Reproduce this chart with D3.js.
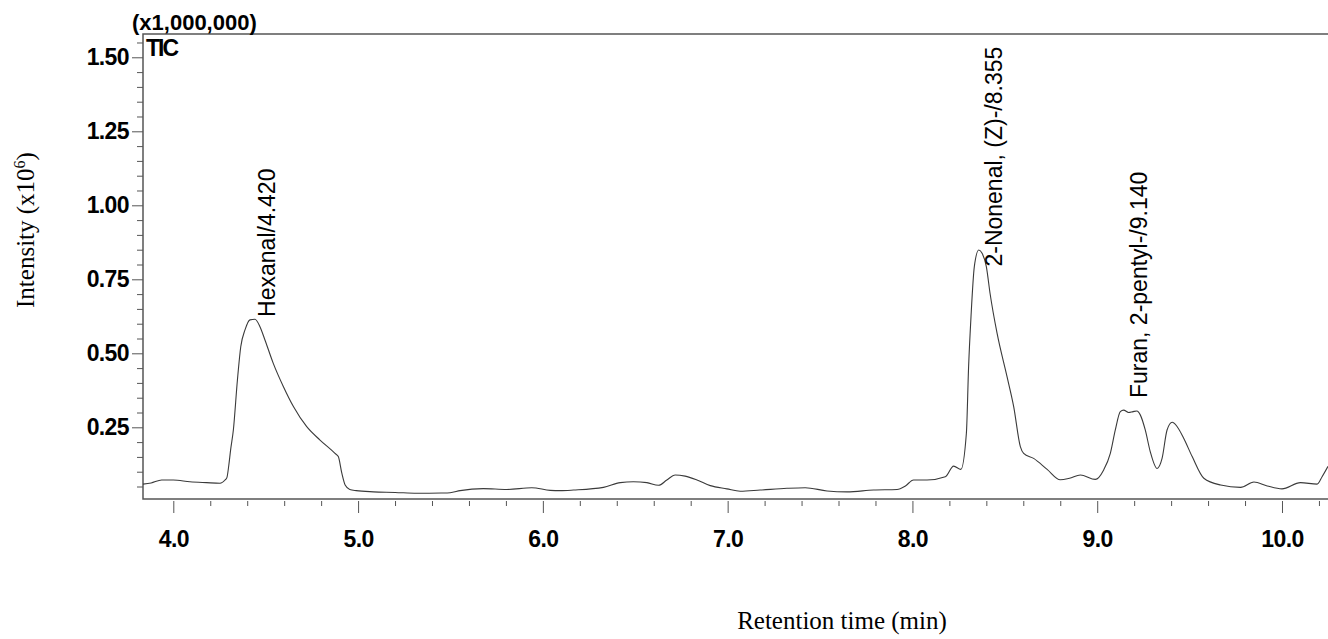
<!DOCTYPE html>
<html>
<head>
<meta charset="utf-8">
<script src="https://cdn.jsdelivr.net/npm/d3@7"></script>
<style>
body { margin: 0; background: #fff; }
</style>
</head>
<body>
<script>
// retention time (min) and intensity (x10^6)
var time = [3.836,3.88,3.937,4.0,4.09,4.18,4.253,4.28,4.29,4.30,4.31,4.325,4.347,4.365,4.388,4.415,4.442,4.469,4.496,4.541,4.596,4.65,4.722,4.794,4.875,4.893,4.912,4.93,4.955,4.99,5.083,5.2,5.318,5.45,5.498,5.552,5.678,5.805,5.94,6.04,6.094,6.166,6.328,6.419,6.49,6.563,6.626,6.671,6.716,6.77,6.834,6.906,6.996,7.068,7.176,7.321,7.42,7.538,7.646,7.79,7.917,7.962,8.006,8.079,8.178,8.223,8.262,8.292,8.304,8.317,8.335,8.359,8.377,8.40,8.42,8.458,8.512,8.548,8.584,8.602,8.656,8.729,8.8,8.85,8.909,8.99,9.035,9.071,9.098,9.125,9.143,9.17,9.194,9.215,9.233,9.26,9.287,9.324,9.351,9.378,9.406,9.433,9.468,9.514,9.577,9.668,9.776,9.848,9.92,10.0,10.1,10.19,10.217,10.249];
var intensity = [0.058,0.062,0.072,0.072,0.066,0.063,0.061,0.072,0.08,0.12,0.173,0.241,0.41,0.522,0.579,0.613,0.615,0.59,0.545,0.466,0.387,0.32,0.252,0.207,0.162,0.151,0.095,0.055,0.040,0.036,0.032,0.030,0.027,0.028,0.029,0.036,0.043,0.040,0.046,0.037,0.036,0.038,0.047,0.063,0.066,0.063,0.054,0.072,0.089,0.085,0.072,0.053,0.042,0.034,0.038,0.044,0.046,0.035,0.032,0.038,0.040,0.052,0.072,0.072,0.083,0.119,0.108,0.23,0.455,0.624,0.793,0.849,0.838,0.793,0.703,0.568,0.421,0.32,0.185,0.162,0.145,0.108,0.073,0.078,0.089,0.074,0.106,0.162,0.241,0.303,0.308,0.300,0.303,0.305,0.292,0.241,0.168,0.111,0.145,0.241,0.267,0.252,0.213,0.151,0.078,0.055,0.047,0.065,0.052,0.042,0.063,0.058,0.083,0.118];

var peakNames = ["Hexanal/4.420", "2-Nonenal, (Z)-/8.355", "Furan, 2-pentyl-/9.140"];
var peakTimes = [4.42, 8.355, 9.14];
var peakLabelBase = [0.623, 0.793, 0.349];

var yMajor = [0.25, 0.50, 0.75, 1.00, 1.25, 1.50];
var yMinor = [0.05,0.10,0.15,0.20,0.30,0.35,0.40,0.45,0.55,0.60,0.65,0.70,0.80,0.85,0.90,0.95,1.05,1.10,1.15,1.20,1.30,1.35,1.40,1.45,1.55];
var xMajor = [4.0, 5.0, 6.0, 7.0, 8.0, 9.0, 10.0];
var xMinor = [4.2,4.4,4.6,4.8,5.2,5.4,5.6,5.8,6.2,6.4,6.6,6.8,7.2,7.4,7.6,7.8,8.2,8.4,8.6,8.8,9.2,9.4,9.6,9.8,10.2];

var svg_width = 1328, svg_height = 639;
var plotLeft = 143, plotRight = 1328, plotTop = 34, plotBottom = 499;
var axisColor = "#555";

var svg = d3.select('body')
  .append('svg')
  .attr('width', svg_width)
  .attr('height', svg_height);

var xScale = d3.scaleLinear()
    .domain([3.836, 10.249])
    .range([plotLeft, plotRight]);
var yScale = d3.scaleLinear()
    .domain([0.0078, 1.5787])
    .range([plotBottom, plotTop]);

// minor ticks first, then majors with labels
svg.append("g")
  .attr("transform", "translate(" + plotLeft + ",0)")
  .call(d3.axisLeft(yScale).tickValues(yMinor).tickSize(6).tickFormat(""))
  .call(function(g){ g.select(".domain").remove(); });

var yAx = svg.append("g")
  .attr("transform", "translate(" + plotLeft + ",0)")
  .call(d3.axisLeft(yScale).tickValues(yMajor).tickSize(11).tickPadding(3).tickFormat(d3.format(".2f")));
yAx.select(".domain").remove();

svg.append("g")
  .attr("transform", "translate(0," + (plotBottom + 2) + ")")
  .call(d3.axisBottom(xScale).tickValues(xMinor).tickSize(5).tickFormat(""))
  .call(function(g){ g.select(".domain").remove(); });

var xAx = svg.append("g")
  .attr("transform", "translate(0," + (plotBottom + 2) + ")")
  .call(d3.axisBottom(xScale).tickValues(xMajor).tickSize(12).tickFormat(d3.format(".1f")));
xAx.select(".domain").remove();
xAx.selectAll("text").attr("y", 46).attr("dy", 0);

svg.selectAll(".tick line").attr("stroke", axisColor);
svg.selectAll(".tick text")
  .attr("fill", "#000")
  .style("font-family", "'Liberation Sans', Arial, sans-serif")
  .style("font-weight", "bold")
  .style("font-size", "23px")
  .style("letter-spacing", "-0.6px");

// frame: top, left, bottom
svg.append("path")
  .attr("d", "M" + plotRight + "," + plotTop + "H" + plotLeft + "V" + plotBottom + "H" + plotRight)
  .attr("fill", "none")
  .attr("stroke", axisColor)
  .attr("stroke-width", 1.5);

// trace
var line = d3.line()
  .x(function(d, i){ return xScale(time[i]); })
  .y(function(d){ return yScale(d); })
  .curve(d3.curveMonotoneX);

svg.append("path")
  .datum(intensity)
  .attr("d", line)
  .attr("fill", "none")
  .attr("stroke", "#3a3a3a")
  .attr("stroke-width", 1.1);

// peak labels
svg.selectAll(".peak")
  .data(peakNames)
  .enter()
  .append("text")
  .attr("class", "peak")
  .attr("transform", function(d, i){
    return "translate(" + (xScale(peakTimes[i]) + 24) + "," + yScale(peakLabelBase[i]) + ") rotate(-90)";
  })
  .style("font-family", "'Liberation Sans', Arial, sans-serif")
  .style("font-size", "23px")
  .attr("fill", "#000")
  .text(function(d){ return d; });

svg.append("text")
  .attr("x", 132).attr("y", 30)
  .style("font-family", "'Liberation Sans', Arial, sans-serif")
  .style("font-weight", "bold")
  .style("font-size", "22px")
  .text("(x1,000,000)");

svg.append("text")
  .attr("x", 146).attr("y", 56)
  .style("font-family", "'Liberation Sans', Arial, sans-serif")
  .style("font-weight", "bold")
  .style("font-size", "23px")
  .style("letter-spacing", "-2px")
  .text("TIC");

// axis titles
var yTitle = svg.append("text")
  .attr("transform", "translate(34,230) rotate(-90)")
  .attr("text-anchor", "middle")
  .style("font-family", "'Liberation Serif', 'Times New Roman', serif")
  .style("font-size", "25px");
yTitle.append("tspan").text("Intensity (x10");
yTitle.append("tspan").attr("dy", -9).style("font-size", "16px").text("6");
yTitle.append("tspan").attr("dy", 9).text(")");

svg.append("text")
  .attr("x", 842).attr("y", 629)
  .attr("text-anchor", "middle")
  .style("font-family", "'Liberation Serif', 'Times New Roman', serif")
  .style("font-size", "25px")
  .text("Retention time (min)");
</script>
</body>
</html>
